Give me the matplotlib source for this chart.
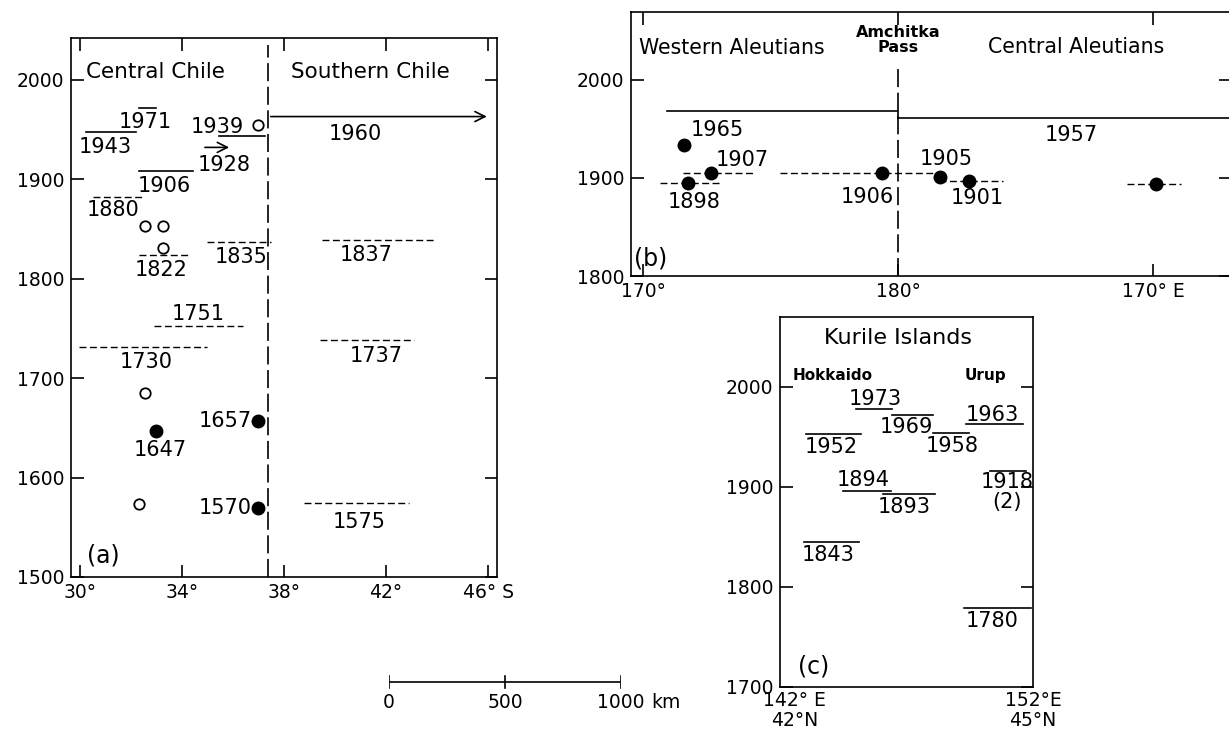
import numpy as np
import matplotlib.pyplot as plt

plt.rcParams["font.family"] = ["DejaVu Sans"]
plt.rcParams["lines.scale_dashes"] = False

W, H = 1229, 730

# ---- panel (a): Chile, latitude (deg S) vs year ----
A_SOLID_YEAR = [1972, 1947, 1943, 1908]
A_SOLID_X0 = [32.3, 30.25, 35.45, 32.3]
A_SOLID_X1 = [33.0, 32.2, 37.25, 34.45]
A_DASH_YEAR = [1882, 1824, 1837, 1839, 1752, 1731, 1738, 1574]
A_DASH_X0 = [30.5, 32.3, 35.0, 39.5, 32.9, 29.95, 39.4, 38.8]
A_DASH_X1 = [32.45, 34.3, 37.5, 43.9, 36.4, 35.0, 43.1, 42.9]
A_ARROW_YEAR = [1963, 1932]
A_ARROW_X0 = [37.48, 34.9]
A_ARROW_X1 = [45.95, 35.85]
A_OPEN_X = [36.97, 32.55, 33.25, 33.25, 32.55, 32.3]
A_OPEN_YEAR = [1955, 1853, 1853, 1831, 1685, 1573]
A_FILLED_X = [33.0, 36.97, 36.97]
A_FILLED_YEAR = [1647, 1657, 1569]
A_LABELS = ["1971", "1943", "1939", "1928", "1960", "1906", "1880", "1822",
            "1835", "1837", "1751", "1730", "1737", "1647", "1657", "1570", "1575"]
A_LABEL_X = [32.55, 31.0, 35.4, 35.65, 40.8, 33.3, 31.3, 33.2,
             36.3, 41.2, 34.65, 32.6, 41.6, 33.15, 35.7, 35.7, 40.95]
A_LABEL_YEAR = [1958, 1932, 1953, 1914, 1945, 1893, 1869, 1809,
                1822, 1824, 1764, 1716, 1722, 1628, 1657, 1569, 1555]
A_XTICKS = [30, 34, 38, 42, 46]
A_XLABELS = ["30°", "34°", "38°", "42°", "46° S"]
A_YTICKS = [1500, 1600, 1700, 1800, 1900, 2000]
A_BORDER = 37.36

# ---- panel (b): Aleutians ----
B_SOLID_YEAR = [1968, 1961]
B_SOLID_X0 = [170.95, 180.0]
B_SOLID_X1 = [179.95, 193.5]
B_DASH_YEAR = [1895, 1905, 1905, 1897, 1894]
B_DASH_X0 = [170.67, 171.57, 175.37, 181.6, 189.0]
B_DASH_X1 = [173.1, 174.3, 181.5, 184.1, 191.1]
B_DOT_X = [171.6, 171.76, 172.67, 179.37, 181.65, 182.8, 190.1]
B_DOT_YEAR = [1933, 1895, 1905, 1905, 1901, 1897, 1894]
B_LABELS = ["1965", "1957", "1907", "1898", "1906", "1905", "1901"]
B_LABEL_X = [172.9, 186.8, 173.9, 172.0, 178.8, 181.9, 183.1]
B_LABEL_YEAR = [1949, 1944, 1918, 1875, 1880, 1919, 1879]
B_XTICKS = [170, 180, 190]
B_XLABELS = ["170°", "180°", "170° E"]
B_YTICKS = [1800, 1900, 2000]
B_BORDER = 180.0

# ---- panel (c): Kurile Islands ----
C_SOLID_YEAR = [1978, 1972, 1953, 1954, 1963, 1916, 1896, 1893, 1845, 1779]
C_SOLID_X0 = [144.6, 146.1, 142.5, 147.8, 149.2, 150.2, 144.05, 145.7, 142.4, 149.1]
C_SOLID_X1 = [146.1, 147.8, 144.8, 149.3, 151.6, 151.7, 146.06, 147.9, 144.7, 151.9]
C_LABELS = ["1973", "1969", "1952", "1958", "1963", "1918\n(2)", "1894", "1893", "1843", "1780"]
C_LABEL_X = [145.4, 146.7, 143.55, 148.6, 150.3, 150.9, 144.9, 146.6, 143.4, 150.3]
C_LABEL_YEAR = [1988, 1960, 1940, 1941, 1972, 1895, 1907, 1880, 1832, 1766]
C_XTICKS = [142, 152]
C_XLABELS = ["142° E\n42°N", "152°E\n45°N"]
C_YTICKS = [1700, 1800, 1900, 2000]

SCALE_KM = [0, 500, 1000]
SCALE_LABELS = ["0", "500", "1000"]

LW = 1.2
DASH = (5, 2.5)
LONG_DASH = (13, 4)


def px_axes(fig, x0, y0, x1, y1):
    return fig.add_axes([x0 / W, (H - y1) / H, (x1 - x0) / W, (y1 - y0) / H])


def style(ax, xticks, xlabels, yticks, xtick_len=9):
    ax.set_xticks(xticks, xlabels)
    ax.set_yticks(yticks)
    ax.tick_params(direction="in", width=LW, top=True, right=True,
                   labelsize=13.5, colors="black")
    ax.tick_params(axis="x", length=xtick_len, pad=4)
    ax.tick_params(axis="y", length=9, pad=5)
    for s in ax.spines.values():
        s.set_linewidth(LW)


def segments(ax, years, x0, x1, dashed):
    for y, a, b in zip(years, x0, x1):
        if dashed:
            ax.plot([a, b], [y, y], color="black", lw=1.0, dashes=DASH)
        else:
            ax.plot([a, b], [y, y], color="black", lw=LW)


fig = plt.figure(figsize=(W / 100, H / 100), dpi=100)

# panel (a)
ax = px_axes(fig, 71, 38, 497, 577)
ax.set_xlim(29.65, 46.35)
ax.set_ylim(1500, 2042)
style(ax, A_XTICKS, A_XLABELS, A_YTICKS)
segments(ax, A_SOLID_YEAR, A_SOLID_X0, A_SOLID_X1, False)
segments(ax, A_DASH_YEAR, A_DASH_X0, A_DASH_X1, True)
for y, a, b in zip(A_ARROW_YEAR, A_ARROW_X0, A_ARROW_X1):
    ax.annotate("", xy=(b, y), xytext=(a, y),
                arrowprops=dict(arrowstyle="->", lw=LW, color="black",
                                shrinkA=0, shrinkB=0, mutation_scale=18))
ax.plot(A_OPEN_X, A_OPEN_YEAR, "o", ms=7.5, mfc="white", mec="black", mew=1.3)
ax.plot(A_FILLED_X, A_FILLED_YEAR, "o", ms=9, color="black")
for t, x, y in zip(A_LABELS, A_LABEL_X, A_LABEL_YEAR):
    ax.text(x, y, t, fontsize=15, ha="center", va="center")
ax.plot([A_BORDER, A_BORDER], [1500, 2035], color="black", lw=LW, dashes=LONG_DASH)
ax.text(30.25, 2008, "Central Chile", fontsize=15.5, ha="left", va="center")
ax.text(41.4, 2008, "Southern Chile", fontsize=15.5, ha="center", va="center")
ax.text(30.9, 1522, "(a)", fontsize=17, ha="center", va="center")

# panel (b)
ax = px_axes(fig, 631, 12, 1231, 276)
ax.set_xlim(169.53, 193.06)
ax.set_ylim(1800, 2069)
style(ax, B_XTICKS, B_XLABELS, B_YTICKS)
segments(ax, B_SOLID_YEAR, B_SOLID_X0, B_SOLID_X1, False)
segments(ax, B_DASH_YEAR, B_DASH_X0, B_DASH_X1, True)
ax.plot(B_DOT_X, B_DOT_YEAR, "o", ms=9, color="black")
ax.plot([B_BORDER, B_BORDER], [B_SOLID_YEAR[0], B_SOLID_YEAR[1]], color="black", lw=LW)
ax.plot([B_BORDER, B_BORDER], [1800, 2015], color="black", lw=LW, dashes=LONG_DASH)
for t, x, y in zip(B_LABELS, B_LABEL_X, B_LABEL_YEAR):
    ax.text(x, y, t, fontsize=15, ha="center", va="center")
ax.text(173.5, 2032, "Western Aleutians", fontsize=14.8, ha="center", va="center")
ax.text(187.0, 2033, "Central Aleutians", fontsize=14.8, ha="center", va="center")
ax.text(180.0, 2040, "Amchitka\nPass", fontsize=11.5, fontweight="bold",
        ha="center", va="center", linespacing=1.0)
ax.text(170.3, 1818, "(b)", fontsize=17, ha="center", va="center")

# panel (c)
ax = px_axes(fig, 780, 317, 1033, 687)
ax.set_xlim(141.4, 152.0)
ax.set_ylim(1700, 2070)
style(ax, C_XTICKS, C_XLABELS, C_YTICKS, xtick_len=0)
ax.tick_params(axis="x", pad=3)
for lab in ax.get_xticklabels():
    lab.set_linespacing(1.05)
segments(ax, C_SOLID_YEAR, C_SOLID_X0, C_SOLID_X1, False)
for t, x, y in zip(C_LABELS, C_LABEL_X, C_LABEL_YEAR):
    ax.text(x, y, t, fontsize=15, ha="center", va="center", linespacing=1.0)
ax.text(146.35, 2049, "Kurile Islands", fontsize=16, ha="center", va="center")
ax.text(143.6, 2011, "Hokkaido", fontsize=11, fontweight="bold", ha="center", va="center")
ax.text(150.0, 2011, "Urup", fontsize=11, fontweight="bold", ha="center", va="center")
ax.text(142.8, 1720, "(c)", fontsize=17, ha="center", va="center")

# scale bar
ax = px_axes(fig, 389, 670, 621, 694)
ax.set_xlim(0, 1000)
ax.set_ylim(0, 1)
ax.axis("off")
ax.plot([SCALE_KM[0], SCALE_KM[-1]], [0.5, 0.5], color="black", lw=LW)
for km, lab in zip(SCALE_KM, SCALE_LABELS):
    ax.plot([km, km], [0.25, 0.75], color="black", lw=LW)
    ax.text(km, -0.375, lab, fontsize=13.5, ha="center", va="center")
ax.annotate("km", (SCALE_KM[-1], -0.375), xytext=(22, 0), textcoords="offset points",
            fontsize=13.5, ha="left", va="center", annotation_clip=False)

fig.savefig("out.png", dpi=100)
